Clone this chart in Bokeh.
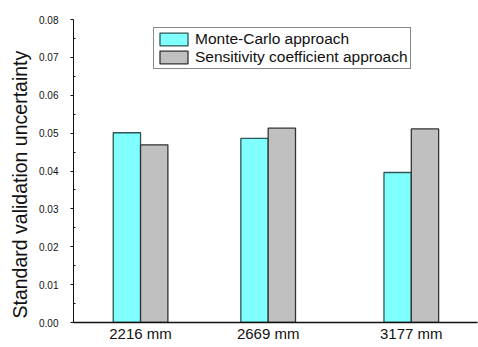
from bokeh.plotting import figure
from bokeh.models import Range1d, FixedTicker, Legend, LegendItem, NumeralTickFormatter, Title
from bokeh.embed import file_html
from bokeh.resources import INLINE

positions = [2216, 2669, 3177]
tick_labels = ["2216 mm", "2669 mm", "3177 mm"]
monte_carlo = [0.0501, 0.0486, 0.0396]
sensitivity = [0.0469, 0.0513, 0.0511]
series_names = ["Monte-Carlo approach", "Sensitivity coefficient approach"]
y_title = "Standard validation uncertainty"
bar_w = 97

p = figure(width=478, height=347, output_backend="svg", toolbar_location=None,
           x_range=Range1d(1978, 3412), y_range=Range1d(0, 0.08),
           min_border_left=72, min_border_top=19, min_border_right=1, min_border_bottom=25)
p.outline_line_color = None
p.xgrid.grid_line_color = None
p.ygrid.grid_line_color = None

font = "Liberation Sans"
xs_mc = [x - bar_w / 2 for x in positions]
xs_sc = [x + bar_w / 2 for x in positions]
r1 = p.vbar(x=xs_mc, top=monte_carlo, width=bar_w, bottom=0,
            fill_color="#80FFFF", line_color="#2F5555", line_width=1.3)
r2 = p.vbar(x=xs_sc, top=sensitivity, width=bar_w, bottom=0,
            fill_color="#C0C0C0", line_color="#333333", line_width=1.3)

# y axis
ya = p.yaxis[0]
ya.ticker = FixedTicker(ticks=[i * 0.01 for i in range(9)],
                        minor_ticks=[0.005 + i * 0.01 for i in range(8)])
ya.formatter = NumeralTickFormatter(format="0.00")
ya.major_label_text_font = font
ya.major_label_text_font_size = "10px"
ya.major_label_text_color = "#111111"
ya.major_label_standoff = 12
ya.major_tick_out = 3
ya.major_tick_in = 0
ya.minor_tick_in = 2
ya.minor_tick_out = 0
ya.axis_line_color = "#111111"
ya.major_tick_line_color = "#111111"
ya.minor_tick_line_color = "#111111"

# y axis title as a side title, starting just above the frame bottom
p.add_layout(Title(text=y_title, align="left", offset=4, standoff=12,
                   text_font=font, text_font_size="19.5px", text_font_style="normal",
                   text_color="#111111"), "left")

# x axis
xa = p.xaxis[0]
xa.ticker = FixedTicker(ticks=positions)
xa.major_label_overrides = {pos: lab for pos, lab in zip(positions, tick_labels)}
xa.major_label_text_font = font
xa.major_label_text_font_size = "15px"
xa.major_label_text_color = "#111111"
xa.major_label_standoff = 2
xa.major_tick_out = 0
xa.major_tick_in = 0
xa.minor_tick_out = 0
xa.minor_tick_in = 0
xa.axis_line_color = "#111111"
xa.axis_line_width = 1.3

legend = Legend(items=[LegendItem(label=series_names[0], renderers=[r1]),
                       LegendItem(label=series_names[1], renderers=[r2])],
                location=(80, 253), orientation="vertical",
                glyph_width=35, glyph_height=16, spacing=0, padding=2, margin=0,
                label_standoff=4, label_text_font=font, label_text_font_size="15.5px",
                label_text_color="#111111", label_height=16,
                border_line_color="#111111", border_line_width=1,
                background_fill_color="white", background_fill_alpha=1)
p.add_layout(legend)

open("out.html", "w").write(file_html(p, INLINE))
